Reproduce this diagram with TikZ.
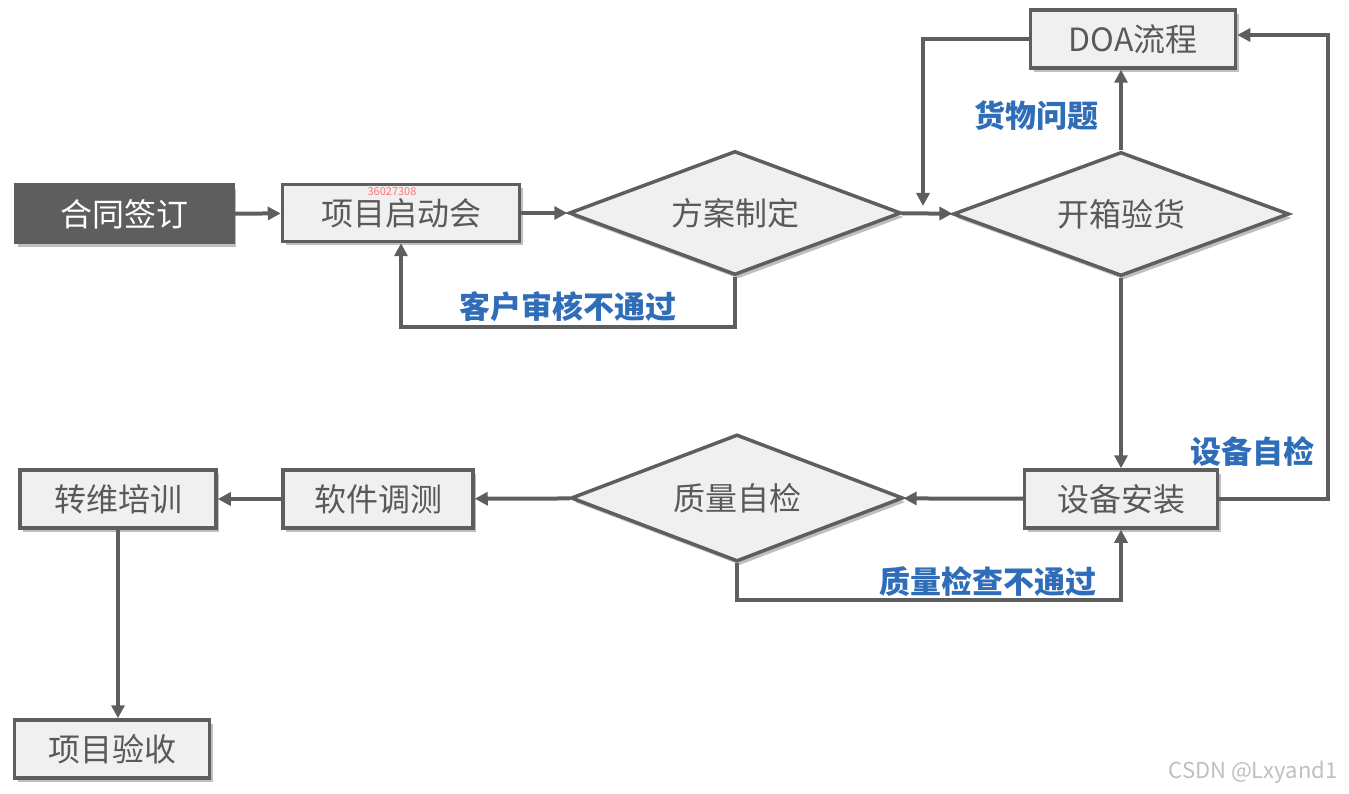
\documentclass[tikz,border=0pt]{standalone}
\usepackage{fontspec}
\setmainfont{Noto Sans CJK SC}
\usetikzlibrary{shapes.geometric,arrows.meta,shadows}
\definecolor{edge}{HTML}{5E5E5E}
\definecolor{boxfill}{HTML}{F0F0F0}
\definecolor{txt}{HTML}{595959}
\definecolor{lblue}{HTML}{2F6DB8}
\tikzset{
  shad/.style={drop shadow={shadow xshift=3pt,shadow yshift=-4pt,opacity=0.25,fill=black}},
  pbox/.style={draw=edge,line width=3.5pt,fill=boxfill,text=txt,inner sep=0pt,shad,
    font=\fontsize{32}{36}\selectfont},
  darkbox/.style={draw=edge,line width=3pt,fill=edge,text=white,inner sep=0pt,shad,
    font=\fontsize{32}{36}\selectfont},
  dia/.style={diamond,aspect=2.6,draw=edge,line width=3.5pt,fill=boxfill,text=txt,inner sep=0pt,shad,
    minimum width=332pt,minimum height=124pt,font=\fontsize{32}{36}\selectfont},
  arr/.style={draw=edge,line width=4pt,-{Triangle[length=13pt,width=13pt]}},
  lbl/.style={text=lblue,font=\fontsize{31}{35}\selectfont\bfseries,inner sep=0pt},
}
\begin{document}
\begin{tikzpicture}[x=1pt,y=-1pt]
\useasboundingbox (0,0) rectangle (1349,794);
% nodes
\node[darkbox,minimum width=218pt,minimum height=58pt] (hetong) at (124,214) {合同签订};
\node[pbox,minimum width=237pt,minimum height=57pt] (xiangmu) at (401,213) {项目启动会};
\node[dia] (fangan) at (735,213) {方案制定};
\node[dia,minimum width=336pt] (kaixiang) at (1121,214) {开箱验货};
\node[pbox,minimum width=205pt,minimum height=58pt] (doa) at (1133,39) {DOA流程};
\node[pbox,minimum width=193pt,minimum height=58pt] (shebei) at (1121,499) {设备安装};
\node[dia,minimum height=127pt] (zhiliang) at (737,498) {质量自检};
\node[pbox,minimum width=190pt,minimum height=58pt] (ruanjian) at (378,499) {软件调测};
\node[pbox,minimum width=196pt,minimum height=58pt] (zhuanwei) at (118,499) {转维培训};
\node[pbox,minimum width=195pt,minimum height=58pt] (yanshou) at (112,749) {项目验收};
\coordinate (cdoa) at (923,206);
% connectors
\draw[arr] (hetong) -- (xiangmu);
\draw[arr] (xiangmu) -- (fangan);
\draw[arr] (fangan) -- (kaixiang);
\draw[arr] (fangan.south) -- ++(0,50) -| (xiangmu.south);
\draw[arr] (kaixiang.north) -- (kaixiang.north |- doa.south);
\draw[arr] (doa.west) -| (cdoa);
\draw[arr] (kaixiang.south) -- (shebei.north);
\draw[arr] (shebei.east) -- ++(109,0) |- ([yshift=4pt]doa.east);
\draw[arr] (shebei) -- (zhiliang);
\draw[arr] (zhiliang.south) -- ++(0,37) -| (shebei.south);
\draw[arr] (zhiliang) -- (ruanjian);
\draw[arr] (ruanjian) -- (zhuanwei);
\draw[arr] (zhuanwei.south) -- (zhuanwei.south |- yanshou.north);
% labels
\node[lbl] (l1) at (568,307) {客户审核不通过};
\node[lbl] (l2) at (1036,116) {货物问题};
\node[lbl] (l3) at (1252,452) {设备自检};
\node[lbl] (l4) at (988,582) {质量检查不通过};
% watermarks
\node[text=red!55,font=\fontsize{11}{13}\selectfont,inner sep=0pt] (wm1) at (392,192) {36027308};
\node[text=black!25,font=\fontsize{22}{26}\selectfont,inner sep=0pt] (wm2) at (1253,772) {CSDN @Lxyand1};
\end{tikzpicture}
\end{document}
